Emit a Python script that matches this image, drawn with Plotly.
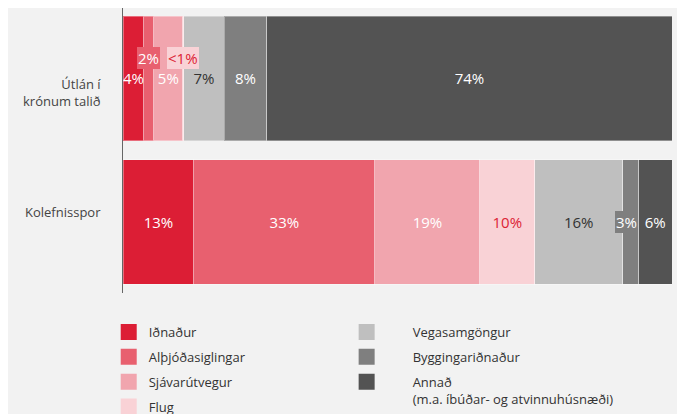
import plotly.graph_objects as go

# data
categories = ['Útlán í<br>krónum talið', 'Kolefnisspor']
sectors = ['Iðnaður', 'Alþjóðasiglingar', 'Sjávarútvegur', 'Flug',
           'Vegasamgöngur', 'Byggingariðnaður',
           'Annað<br>(m.a. íbúðar- og atvinnuhúsnæði)']
lending = [3.8, 1.8, 5.3, 0.2, 7.3, 7.8, 73.8]
carbon = [12.9, 33.0, 19.1, 10.0, 16.0, 2.9, 6.1]
lending_labels = ['4%', '2%', '5%', '<1%', '7%', '8%', '74%']
carbon_labels = ['13%', '33%', '19%', '10%', '16%', '3%', '6%']

colors = ['#dc1e35', '#e8606f', '#f1a5ae', '#f9d2d6', '#bfbfbf', '#7f7f7f', '#535353']
text_colors = ['white', 'white', 'white', '#dc1e35', '#333333', 'white', 'white']
bg = '#f2f2f2'
font = 'Open Sans, sans-serif'

# labels too narrow for their segment get a boxed annotation instead
boxed = {(0, 1): (0, 20), (0, 3): (0, 20), (1, 5): (-4, 0)}
# category labels sit a little off the bar centre
cat_shift = [-14, 10]

fig = go.Figure()
annotations = []
for i, name in enumerate(sectors):
    vals = [lending[i], carbon[i]]
    labels = [lending_labels[i], carbon_labels[i]]
    txt = ['' if (j, i) in boxed else labels[j] for j in range(2)]
    fig.add_trace(go.Bar(
        y=categories, x=vals, orientation='h', name=name,
        marker=dict(color=colors[i], line=dict(color='rgba(255,255,255,0.35)', width=1)),
        text=txt, textposition='inside', insidetextanchor='middle',
        constraintext='none', textangle=0,
        textfont=dict(family=font, size=15, color=text_colors[i]),
        showlegend=False, hoverinfo='skip',
    ))
    # legend entry with a larger square swatch
    fig.add_trace(go.Scatter(
        x=[None], y=[None], mode='markers', name=name,
        marker=dict(symbol='square', size=17, color=colors[i]),
        legend='legend' if i < 4 else 'legend2', legendgroup=name,
    ))
    for j in range(2):
        if (j, i) in boxed:
            left = sum((lending if j == 0 else carbon)[:i])
            xs, ys = boxed[(j, i)]
            annotations.append(dict(
                x=left + vals[j] / 2, y=categories[j], xref='x', yref='y',
                text=labels[j], showarrow=False, xshift=xs, yshift=ys,
                bgcolor=colors[i], borderpad=1, borderwidth=0,
                font=dict(family=font, size=15, color=text_colors[i]),
            ))

for j, cat in enumerate(categories):
    annotations.append(dict(
        x=0, y=cat, xref='paper', yref='y', text=cat, showarrow=False,
        xanchor='right', align='right', xshift=-20, yshift=cat_shift[j],
        font=dict(family=font, size=13, color='#444444'),
    ))

legend_style = dict(
    orientation='v', yanchor='top', xanchor='left', bgcolor='rgba(0,0,0,0)',
    font=dict(family=font, size=13, color='#333333'), tracegroupgap=5,
    traceorder='grouped', valign='top',
)

fig.update_layout(
    width=677, height=406,
    margin=dict(l=115, r=13, t=0, b=121, autoexpand=False),
    paper_bgcolor=bg, plot_bgcolor=bg,
    barmode='stack', bargap=0.13,
    annotations=annotations,
    legend=dict(x=-0.026, y=-0.084, **legend_style),
    legend2=dict(x=0.36, y=-0.084, itemwidth=82, **legend_style),
    xaxis=dict(range=[0, 100], visible=False),
    yaxis=dict(range=[1.495, -0.491], showline=True, linecolor='#666666', linewidth=1,
               showgrid=False, zeroline=False, ticks='', showticklabels=False),
    font=dict(family=font),
)

fig.write_html('out.html')
